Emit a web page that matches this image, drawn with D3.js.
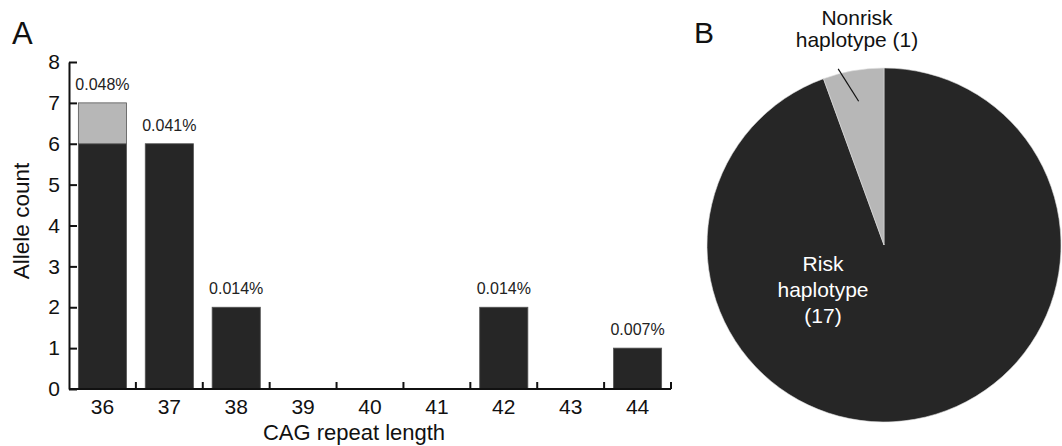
<!DOCTYPE html>
<html>
<head>
<meta charset="utf-8">
<script src="https://cdn.jsdelivr.net/npm/d3@7"></script>
<style>
  body { margin: 0; background: #fff; }
  svg { font-family: "Liberation Sans", Arial, sans-serif; }
</style>
</head>
<body>
<svg id="chart" width="1062" height="446"></svg>
<script>
// panel A data
const repeatLengths = ["36", "37", "38", "39", "40", "41", "42", "43", "44"];
const riskCounts    = [6, 6, 2, 0, 0, 0, 2, 0, 1];
const nonriskCounts = [1, 0, 0, 0, 0, 0, 0, 0, 0];
const freqLabels    = ["0.048%", "0.041%", "0.014%", "", "", "", "0.014%", "", "0.007%"];
const yTicks = [0, 1, 2, 3, 4, 5, 6, 7, 8];

// panel B data
const haplotypes = ["Risk", "Nonrisk"];
const haploCounts = [17, 1];

const dark = "#262626", light = "#b7b7b7";

const svg = d3.select("#chart");

// ---- Panel A ----
const plotLeft = 69, plotRight = 671, plotTop = 62, plotBottom = 389;

const x = d3.scaleBand()
    .domain(repeatLengths)
    .range([plotLeft, plotRight])
    .paddingInner(0.28)
    .paddingOuter(0.14);

const y = d3.scaleLinear().domain([0, 8]).range([plotBottom, plotTop]);

const stacked = repeatLengths.map((d, i) => ({
    len: d, risk: riskCounts[i], nonrisk: nonriskCounts[i], label: freqLabels[i]
}));

const bars = svg.append("g");
bars.selectAll("rect.risk")
    .data(stacked.filter(d => d.risk > 0))
    .enter().append("rect")
    .attr("x", d => x(d.len))
    .attr("width", x.bandwidth())
    .attr("y", d => y(d.risk))
    .attr("height", d => y(0) - y(d.risk))
    .attr("fill", dark)
    .attr("stroke", "#555")
    .attr("stroke-width", 0.8);

bars.selectAll("rect.nonrisk")
    .data(stacked.filter(d => d.nonrisk > 0))
    .enter().append("rect")
    .attr("x", d => x(d.len))
    .attr("width", x.bandwidth())
    .attr("y", d => y(d.risk + d.nonrisk))
    .attr("height", d => y(d.risk) - y(d.risk + d.nonrisk))
    .attr("fill", light)
    .attr("stroke", "#555")
    .attr("stroke-width", 0.8);

bars.selectAll("text.freq")
    .data(stacked.filter(d => d.label))
    .enter().append("text")
    .attr("x", d => x(d.len) + x.bandwidth() / 2)
    .attr("y", d => y(d.risk + d.nonrisk) - 13)
    .attr("text-anchor", "middle")
    .attr("font-size", 16)
    .attr("fill", "#222")
    .text(d => d.label);

// y axis
const yAxis = svg.append("g")
    .attr("transform", `translate(${plotLeft},0)`)
    .call(d3.axisLeft(y).tickValues(yTicks).tickSize(-8).tickSizeOuter(0).tickPadding(9));
yAxis.selectAll("text").attr("font-size", 21).attr("fill", "#111");
yAxis.selectAll("line, path").attr("stroke", "#111").attr("stroke-width", 2);

// x axis: labels centred on bands, ticks at band boundaries
const xAxis = svg.append("g")
    .attr("transform", `translate(0,${plotBottom})`)
    .call(d3.axisBottom(x).tickSize(0).tickPadding(10));
xAxis.select(".domain").remove();
xAxis.selectAll("text").attr("font-size", 21).attr("fill", "#111");

const boundary = d => x(d) - x.step() * x.paddingInner() / 2;
const edges = repeatLengths.slice(1).map(boundary).concat([plotRight]);
svg.append("line")
    .attr("x1", plotLeft).attr("x2", plotRight)
    .attr("y1", plotBottom).attr("y2", plotBottom)
    .attr("stroke", "#111").attr("stroke-width", 2);
svg.append("g").selectAll("line")
    .data(edges)
    .enter().append("line")
    .attr("x1", d => d).attr("x2", d => d)
    .attr("y1", plotBottom).attr("y2", plotBottom - 7)
    .attr("stroke", "#111").attr("stroke-width", 2);

svg.append("text")
    .attr("x", 354).attr("y", 440)
    .attr("text-anchor", "middle")
    .attr("font-size", 22)
    .attr("fill", "#111")
    .text("CAG repeat length");

svg.append("text")
    .attr("transform", `translate(29,221) rotate(-90)`)
    .attr("text-anchor", "middle")
    .attr("font-size", 22.5)
    .attr("fill", "#111")
    .text("Allele count");

svg.append("text").attr("x", 12).attr("y", 44)
    .attr("font-size", 31).attr("fill", "#111").text("A");

// ---- Panel B ----
const cx = 884, cy = 245, r = 177;
svg.append("text").attr("x", 694).attr("y", 43)
    .attr("font-size", 30).attr("fill", "#111").text("B");

const pie = d3.pie().sort(null).value(d => d.count);
const arc = d3.arc().innerRadius(0).outerRadius(r);
const slices = pie(haplotypes.map((h, i) => ({ name: h, count: haploCounts[i] })));

const pieG = svg.append("g").attr("transform", `translate(${cx},${cy})`);
pieG.selectAll("path")
    .data(slices)
    .enter().append("path")
    .attr("d", arc)
    .attr("fill", d => d.data.name === "Risk" ? dark : light)
    .attr("stroke", "#ddd")
    .attr("stroke-width", 0.6);

// leader line for the small slice
const nonrisk = slices[1];
const mid = (nonrisk.startAngle + nonrisk.endAngle) / 2;
const p1 = [Math.sin(mid) * (r - 31), -Math.cos(mid) * (r - 31)];
const p2 = [Math.sin(mid - 0.08) * (r + 5), -Math.cos(mid - 0.08) * (r + 5)];
pieG.append("line")
    .attr("x1", p1[0]).attr("y1", p1[1])
    .attr("x2", p2[0]).attr("y2", p2[1])
    .attr("stroke", "#111").attr("stroke-width", 1.2);

const nonriskLabel = svg.append("text")
    .attr("text-anchor", "middle")
    .attr("font-size", 21)
    .attr("fill", "#111");
nonriskLabel.append("tspan").attr("x", 857).attr("y", 25).text("Nonrisk");
nonriskLabel.append("tspan").attr("x", 857).attr("y", 47).text("haplotype (1)");

const riskLabel = svg.append("text")
    .attr("text-anchor", "middle")
    .attr("font-size", 21)
    .attr("fill", "#fff");
riskLabel.append("tspan").attr("x", 823).attr("y", 271).text("Risk");
riskLabel.append("tspan").attr("x", 823).attr("y", 297).text("haplotype");
riskLabel.append("tspan").attr("x", 823).attr("y", 323).text(`(${haploCounts[0]})`);
</script>
</body>
</html>
